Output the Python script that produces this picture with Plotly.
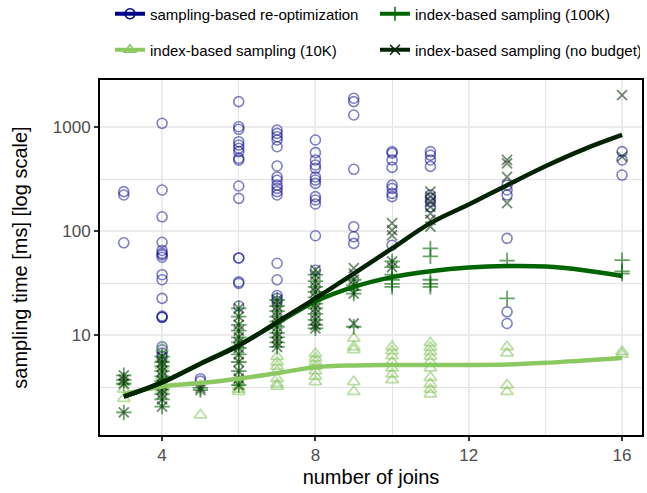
import plotly.graph_objects as go

# ---- data ----
reopt = {
    3: [239, 222, 77],
    4: [1085, 248, 137, 78, 65, 61, 59, 56, 38, 34, 22.5, 14.8, 14.8, 15.2, 7.7, 7.2, 6.7, 6.2],
    5: [3.8, 3.6],
    6: [1755, 1007, 950, 722, 671, 624, 580, 500, 480, 271, 206, 55, 55, 32.4, 31.4, 19],
    7: [936, 869, 807, 750, 646, 422, 331, 308, 276, 257, 239, 222, 49, 34, 24, 22.5, 21],
    8: [750, 567, 482, 431, 401, 331, 309, 287, 214, 199, 182, 90, 42],
    9: [1890, 1755, 1305, 392, 110, 88, 76],
    10: [580, 560, 482, 409, 276, 257, 230, 214, 73],
    11: [580, 537, 482, 418, 222, 206, 191, 171],
    13: [276, 248, 222, 85, 16.7, 12.9],
    16: [580, 482, 345],
}
idx10k = {
    3: [2.45, 3.0, 3.5],
    4: [7.5, 6.0, 5.0, 4.0, 3.5, 3.0],
    5: [1.7],
    6: [2.85, 3.0, 3.2, 3.5],
    7: [6.2, 5.5, 5.0, 4.5, 3.8, 3.4, 3.2],
    8: [6.6, 6.0, 5.5, 5.0, 4.5, 4.0, 3.55],
    9: [9.3, 7.7, 7.2, 3.55, 2.85],
    10: [7.7, 7.0, 6.3, 5.5, 4.8, 4.2, 3.7],
    11: [8.4, 7.6, 6.9, 6.2, 5.5, 4.8, 3.9, 3.4, 3.0, 2.7],
    13: [7.7, 6.7, 3.3, 2.85],
    16: [6.9, 6.5],
}
idx100k = {
    3: [4.1, 3.7, 3.4, 1.8],
    4: [6.2, 5.5, 5.0, 4.5, 4.0, 3.6, 3.3, 3.0, 2.7, 2.4, 2.05],
    5: [2.95, 3.1],
    6: [18, 15, 12.5, 11, 9.5, 8.5, 7.5, 6.5, 5.5, 4.5, 3.8, 3.3],
    7: [21.7, 19, 17, 15, 13.5, 12, 10.5, 9.5, 8.5, 7.7],
    8: [38, 33, 29, 26, 23, 20, 18, 16, 14, 12.5, 11.6],
    9: [34, 30, 27, 25, 12],
    10: [51, 45, 38, 34, 31, 29],
    11: [68, 57, 34, 31, 29],
    13: [52, 22.5],
    16: [52.5, 41, 39],
}
idxnob = {
    3: [4.1, 3.7, 3.4, 1.8],
    4: [6.2, 5.5, 5.0, 4.5, 4.0, 3.6, 3.3, 3.0, 2.7, 2.4, 2.05],
    5: [2.95, 3.1],
    6: [18, 15, 12.5, 11, 9.5, 8.5, 7.5, 6.5, 5.5, 4.5, 3.8, 3.3],
    7: [21.7, 19, 17, 15, 13.5, 12, 10.5, 9.5, 8.5, 7.7],
    8: [42, 38, 33, 29, 26, 23, 20, 18, 16, 14, 12.5, 11.6],
    9: [44, 39, 34, 30, 25, 12.9],
    10: [119, 102, 91, 51, 45],
    11: [239, 214, 191, 171, 148, 128, 110],
    13: [482, 448, 331, 185],
    16: [2030, 519],
}
curve_joins = [3, 4, 5, 6, 7, 8, 9, 10, 11, 12, 13, 14, 15, 16]
curve_10k = [2.7, 3.2, 3.45, 3.8, 4.3, 4.9, 5.1, 5.15, 5.15, 5.15, 5.2, 5.4, 5.7, 6.0]
curve_100k = [2.55, 3.5, 5.3, 8.0, 13.0, 21, 29, 36, 41, 44.5, 46, 45.5, 42, 37]
curve_nob = [2.55, 3.5, 5.3, 7.9, 13.3, 22.5, 39, 68, 119, 180, 276, 420, 610, 838]

x_ticks = [4, 8, 12, 16]
y_ticks = [10, 100, 1000]
y_ticklabels = ["10", "100", "1000"]

NAMES = ["sampling-based re-optimization", "index-based sampling (10K)",
         "index-based sampling (100K)", "index-based sampling (no budget)"]
C_BLUE = "#00008B"
C_10K = "#8CC862"
C_100K = "#006400"
C_NOB = "#002400"


def flat(d):
    xs, ys = [], []
    for k, vals in d.items():
        for v in vals:
            xs.append(k)
            ys.append(v)
    return xs, ys


fig = go.Figure()

pt_specs = [
    (reopt, "circle-open", "rgba(0,0,139,0.5)", 10, 1.6),
    (idx10k, "triangle-up-open", "rgba(130,195,90,0.55)", 11, 1.8),
    (idx100k, "cross-thin-open", "rgba(0,100,0,0.6)", 11, 1.8),
    (idxnob, "x-thin-open", "rgba(0,40,0,0.55)", 10, 1.8),
]
for d, sym, col, sz, lw in pt_specs:
    xs, ys = flat(d)
    fig.add_trace(go.Scatter(x=xs, y=ys, mode="markers", showlegend=False,
                             marker=dict(symbol=sym, size=sz, color=col,
                                         line=dict(color=col, width=lw))))

for cy, col in [(curve_10k, C_10K), (curve_100k, C_100K), (curve_nob, C_NOB)]:
    fig.add_trace(go.Scatter(x=curve_joins, y=cy, mode="lines", showlegend=False,
                             line=dict(color=col, width=4.5, shape="spline", smoothing=1.0)))

# legend entries
leg_specs = [
    (NAMES[0], C_BLUE, "circle-open", "legend"),
    (NAMES[2], C_100K, "cross-thin-open", "legend"),
    (NAMES[1], C_10K, "triangle-up-open", "legend2"),
    (NAMES[3], C_NOB, "x-thin-open", "legend2"),
]
for nm, col, sym, lg in leg_specs:
    fig.add_trace(go.Scatter(x=[None], y=[None], mode="lines+markers", name=nm,
                             legend=lg,
                             line=dict(color=col, width=4),
                             marker=dict(symbol=sym, size=10, color=col,
                                         line=dict(color=col, width=1.5))))

leg_common = dict(orientation="h", xref="container", yref="container",
                  x=110 / 647, xanchor="left", yanchor="middle",
                  font=dict(size=15, color="black", family="Liberation Sans"),
                  entrywidth=220, bgcolor="rgba(0,0,0,0)", itemwidth=30,
                  traceorder="normal")

fig.update_layout(
    width=647, height=493,
    margin=dict(l=100, r=5, t=80, b=58, autoexpand=False),
    paper_bgcolor="white", plot_bgcolor="white",
    font=dict(family="Liberation Sans", color="black"),
    legend=dict(leg_common, y=1 - 14 / 493),
    legend2=dict(leg_common, y=1 - 50 / 493),
    xaxis=dict(
        range=[2.38, 16.52], tickvals=x_ticks, ticktext=[str(t) for t in x_ticks],
        showgrid=True, gridcolor="#EBEBEB", gridwidth=2,
        minor=dict(tickvals=[6, 10, 14], showgrid=True, gridcolor="#E3E3E3", gridwidth=1, ticklen=0),
        showline=True, linecolor="black", linewidth=2, mirror=True,
        ticks="outside", ticklen=4, tickwidth=1.5, tickcolor="#333333",
        tickfont=dict(size=17, color="#4D4D4D"),
        title=dict(text="number of joins", font=dict(size=20, color="black"), standoff=6),
        zeroline=False, automargin=False,
    ),
    yaxis=dict(
        type="log", range=[0.0385, 3.452], tickvals=y_ticks, ticktext=y_ticklabels,
        showgrid=True, gridcolor="#EBEBEB", gridwidth=2,
        minor=dict(tickvals=[10 ** 0.5, 10 ** 1.5, 10 ** 2.5], showgrid=True,
                   gridcolor="#E3E3E3", gridwidth=1, ticklen=0),
        showline=True, linecolor="black", linewidth=2, mirror=True,
        ticks="outside", ticklen=4, tickwidth=1.5, tickcolor="#333333",
        tickfont=dict(size=17, color="#4D4D4D"),
        title=dict(text="sampling time [ms] [log scale]", font=dict(size=20, color="black"), standoff=20),
        zeroline=False, automargin=False,
    ),
)

fig.write_html("out.html", config={"responsive": False, "displayModeBar": False},
               post_script="document.body.style.margin='0px';document.body.style.padding='0px';")
